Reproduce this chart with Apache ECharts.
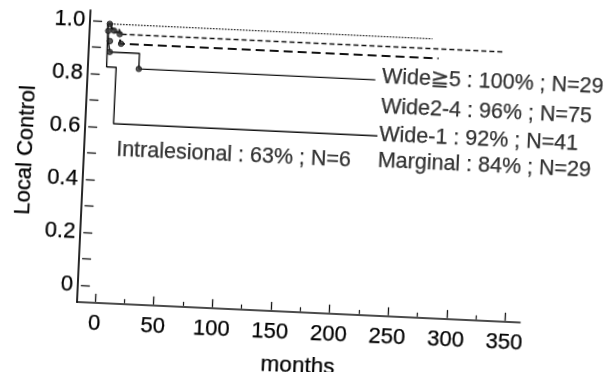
<!DOCTYPE html>
<html><head><meta charset="utf-8">
<script src="https://cdn.jsdelivr.net/npm/echarts@6/dist/echarts.min.js"></script>
<style>
html,body{margin:0;padding:0;background:#fff;overflow:hidden;}
#wrap{width:607px;height:372px;transform:rotate(2.65deg);transform-origin:77px 302px;}
#chart{width:607px;height:372px;}
</style></head><body><div id="wrap"><div id="chart"></div></div>
<script>
// ---- data ----
const groups = ['Wide≧5', 'Wide2-4', 'Wide-1', 'Marginal', 'Intralesional'];
const rates = ['100%', '96%', '92%', '84%', '63%'];
const counts = [29, 75, 41, 29, 6];
const xTickValues = [0, 50, 100, 150, 200, 250, 300, 350];
const yTickValues = [0, 0.2, 0.4, 0.6, 0.8, 1.0];
// Kaplan-Meier step points [month, local control]
const wide5 = [[0, 0.99], [277, 0.99]];
const wide24 = [[0, 0.99], [4, 0.97], [10, 0.953], [338, 0.953]];
const wide1 = [[0, 0.99], [3, 0.96], [11, 0.917], [283, 0.917]];
const marginal = [[0, 0.99], [1, 0.925], [2.5, 0.884], [28, 0.825], [230, 0.825]];
const intralesional = [[0, 0.99], [0.5, 0.827], [8.7, 0.614], [234, 0.614]];
// censored marks
const censorWide5 = [[1.5, 0.99]];
const censorWide24 = [[5.5, 0.965], [10.4, 0.953]];
const censorWide1 = [[0.5, 0.963], [11.9, 0.917]];
const censorMarginal = [[2.3, 0.925], [2.6, 0.884], [28, 0.825]];

// ---- chart ----
const ink = '#000';
const font = '"Liberation Sans", Arial, Helvetica, sans-serif';
const chart = echarts.init(document.getElementById('chart'), null, {renderer: 'canvas'});

function km(name, data, lineStyle) {
  return {
    type: 'line', name, data, step: 'end', showSymbol: false, symbol: 'none',
    clip: false, xAxisIndex: 0, yAxisIndex: 0,
    lineStyle: Object.assign({color: '#111'}, lineStyle), z: 3
  };
}
function marks(data) {
  return {
    type: 'scatter', data, symbol: 'circle', symbolSize: 5.5, clip: false,
    xAxisIndex: 0, yAxisIndex: 0, itemStyle: {color: '#333', borderColor: '#111', borderWidth: 1}, z: 4
  };
}
const labelText = groups.map((g, i) => g + ' : ' + rates[i] + ' ; N=' + counts[i]);
// label anchors (layout, in data space)
const anchors = [[235.5, 0.838], [236, 0.724], [235.6, 0.619], [235.3, 0.519], [12, 0.517]];
const txt = {color: ink, fontFamily: font, textBorderColor: '#000', textBorderWidth: 0.25};

const option = {
  animation: false,
  backgroundColor: '#fff',
  textStyle: {fontFamily: font},
  grid: [
    {left: 92, right: 101.6, top: 20, bottom: 86},
    {left: 77, right: 86.5, top: 10, bottom: 70}
  ],
  xAxis: [
    {
      gridIndex: 0, type: 'value', min: 0, max: 350, interval: 50,
      offset: 16,
      axisLine: {show: false, onZero: false},
      axisTick: {show: true, inside: true, length: 8, lineStyle: {color: '#111', width: 1.3}},
      minorTick: {show: true, splitNumber: 2, length: 4, lineStyle: {color: '#111', width: 1.2}},
      splitLine: {show: false}, minorSplitLine: {show: false},
      axisLabel: Object.assign({fontSize: 22, margin: 11,
        formatter: v => xTickValues.includes(v) ? String(v) : ''}, txt),
      name: 'months', nameLocation: 'middle', nameGap: 43,
      nameTextStyle: Object.assign({fontSize: 22.5}, txt)
    },
    {
      gridIndex: 1, type: 'value', min: 0, max: 1,
      axisLine: {show: true, onZero: false, lineStyle: {color: '#111', width: 1.6}},
      axisTick: {show: false}, axisLabel: {show: false}, splitLine: {show: false}
    }
  ],
  yAxis: [
    {
      gridIndex: 0, type: 'value', min: 0, max: 1, interval: 0.1,
      offset: 15,
      axisLine: {show: false, onZero: false},
      axisTick: {show: true, inside: true, length: 9, lineStyle: {color: '#111', width: 1.3}},
      splitLine: {show: false},
      axisLabel: Object.assign({fontSize: 22, margin: 8,
        formatter: v => {
          const k = Math.round(v * 10);
          const hit = yTickValues.some(t => Math.abs(t - v) < 1e-6);
          return hit ? (k === 0 ? '0' : (k / 10).toFixed(1)) : '';
        }}, txt),
      name: 'Local Control', nameLocation: 'middle', nameGap: 50, nameRotate: 90,
      nameTextStyle: Object.assign({fontSize: 22}, txt)
    },
    {
      gridIndex: 1, type: 'value', min: 0, max: 1,
      axisLine: {show: true, onZero: false, lineStyle: {color: '#111', width: 1.8}},
      axisTick: {show: false}, axisLabel: {show: false}, splitLine: {show: false}
    }
  ],
  series: [
    km(groups[0], wide5, {width: 1.4, type: [1.5, 1.5]}),
    km(groups[1], wide24, {width: 1.6, type: [5, 3]}),
    km(groups[2], wide1, {width: 2, type: [9, 5]}),
    km(groups[3], marginal, {width: 1.4}),
    km(groups[4], intralesional, {width: 1.4}),
    marks(censorWide5), marks(censorWide24), marks(censorWide1), marks(censorMarginal),
    {
      type: 'scatter', xAxisIndex: 0, yAxisIndex: 0, clip: false, symbolSize: 0,
      silent: true, z: 5,
      data: anchors.map((a, i) => ({value: a, name: labelText[i]})),
      label: Object.assign({
        show: true, position: 'right', distance: 0, align: 'left', verticalAlign: 'middle',
        fontSize: 21.5,
        formatter: p => p.name
      }, txt)
    }
  ]
};
chart.setOption(option);
</script>
</body></html>
